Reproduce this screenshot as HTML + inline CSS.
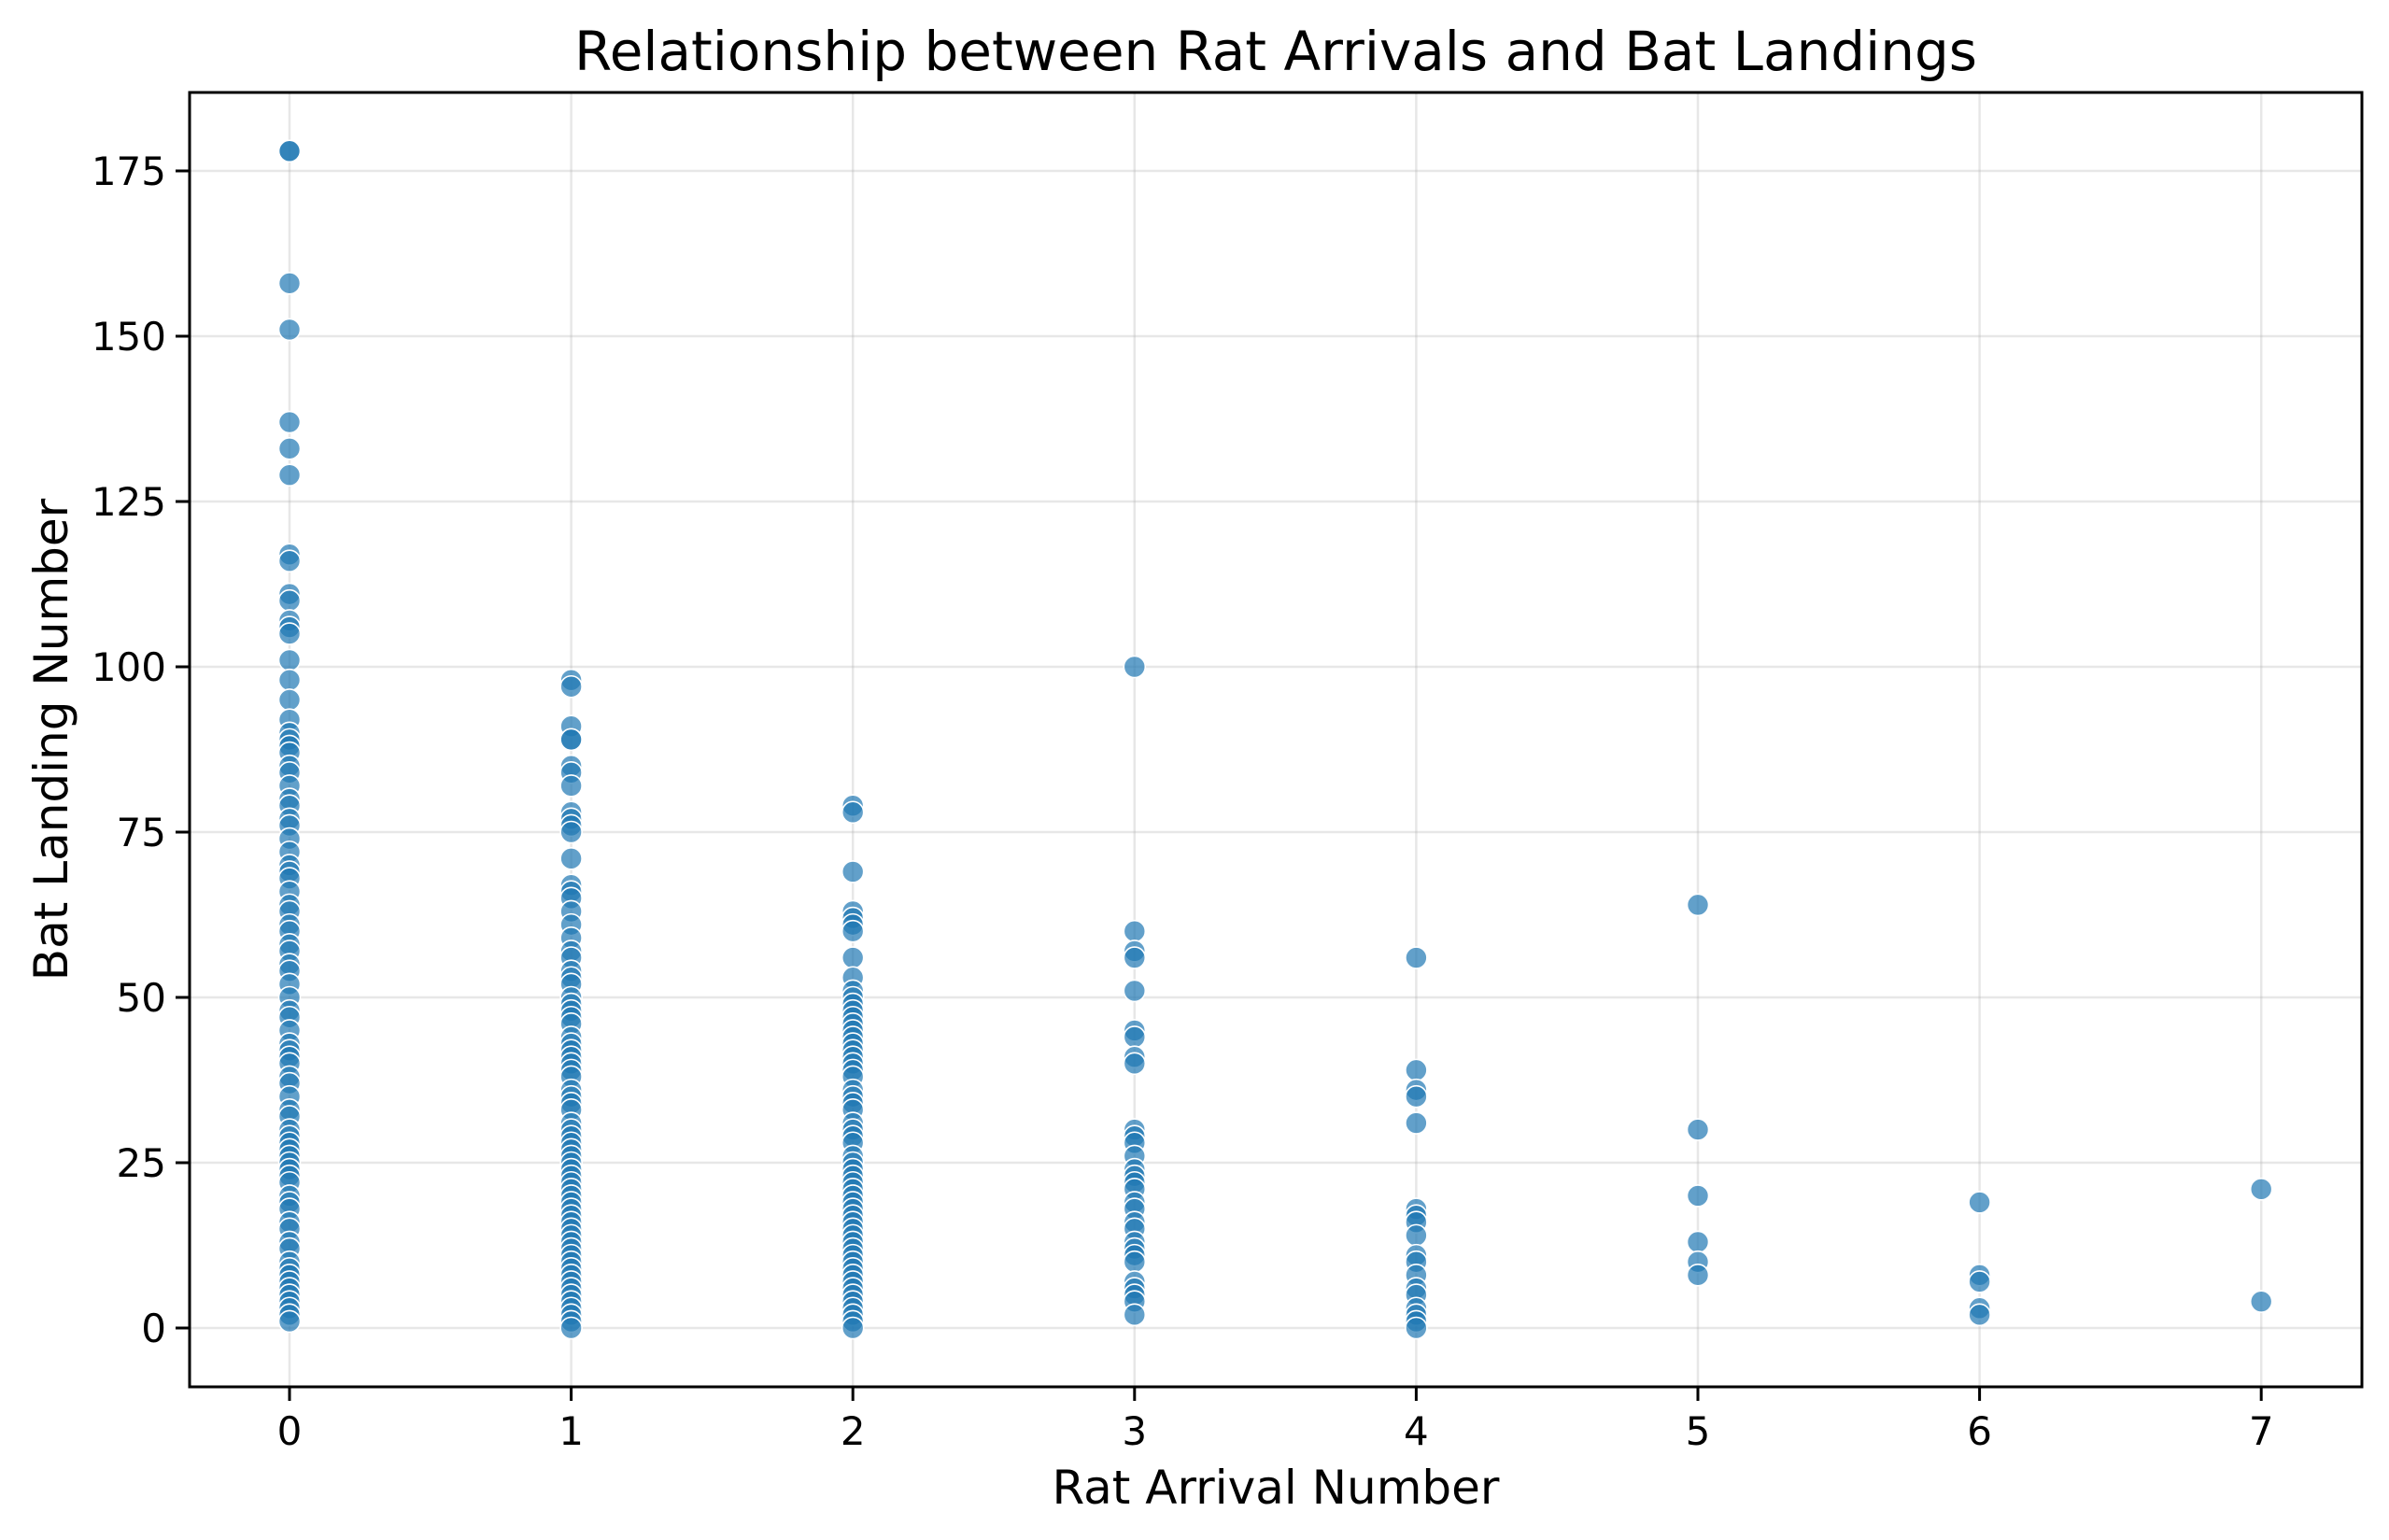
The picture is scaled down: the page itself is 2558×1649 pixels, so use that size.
<!DOCTYPE html>
<html><head><meta charset="utf-8"><style>
html,body{margin:0;padding:0;background:#fff;}
svg{display:block;font-family:"DejaVu Sans","Liberation Sans",sans-serif;}
</style></head><body>
<svg id="chart" width="2558" height="1649" viewBox="0 0 2558 1649" xmlns="http://www.w3.org/2000/svg">
<rect width="2558" height="1649" fill="#fff"/>
<g id="grid"></g>
<g id="points"></g>
<rect x="203" y="99" width="2326" height="1386" fill="none" stroke="#000" stroke-width="3"/>
<g id="ticks"></g>
<text x="1366" y="75" font-size="58" text-anchor="middle">Relationship between Rat Arrivals and Bat Landings</text>
<text x="1366" y="1610" font-size="50" text-anchor="middle">Rat Arrival Number</text>
<text x="0" y="0" font-size="50" text-anchor="middle" transform="translate(72,792) rotate(-90)">Bat Landing Number</text>
</svg>
<script>
const xTicks = [0,1,2,3,4,5,6,7];
const yTicks = [0,25,50,75,100,125,150,175];
const col0 = [178,178,158,151,137,133,129,117,116,111,110,107,106,105,101,98,95,92,90,89,88,87,85,84,82,80,79,77,76,74,72,70,69,68,66,64,63,61,60,58,57,55,54,52,50,48,47,45,43,42,41,40,38,37,35,33,32,30,29,28,27,26,25,24,23,22,20,19,18,16,15,13,12,10,9,8,7,6,5,4,3,2,1];
const col1 = [98,97,91,89,89,85,84,82,78,77,76,75,71,67,66,65,63,61,59,57,56,54,53,52,50,49,48,47,46,44,43,42,41,40,39,38,36,35,34,33,31,30,29,28,27,26,25,24,23,22,21,20,19,18,17,16,15,14,13,12,11,10,9,8,7,6,5,4,3,2,1,0];
const col2 = [79,78,69,63,62,61,60,56,53,51,50,49,48,47,46,45,44,43,42,41,40,39,38,36,35,34,33,31,30,29,28,26,25,24,23,22,21,20,19,18,17,16,15,14,13,12,11,10,9,8,7,6,5,4,3,2,1,0];
const col3 = [100,60,57,56,51,45,44,41,40,30,29,28,26,24,23,22,21,19,18,16,15,13,12,11,10,7,6,5,4,2];
const col4 = [56,39,36,35,31,18,17,16,14,11,10,8,6,5,3,2,1,0];
const col5 = [64,30,20,13,10,8];
const col6 = [19,8,7,3,2];
const col7 = [21,4];
const columns = [col0,col1,col2,col3,col4,col5,col6,col7];

const NS = "http://www.w3.org/2000/svg";
const L=203,R=2529,T=99,B=1485;
function xs(v){return 310 + v*301.6;}
function ys(v){return 1422 - v*(1422-183)/175;}
function mk(tag, attrs, parent){const e=document.createElementNS(NS,tag);for(const k in attrs)e.setAttribute(k,attrs[k]);parent.appendChild(e);return e;}
const grid=document.getElementById('grid'),pts=document.getElementById('points'),tk=document.getElementById('ticks');
xTicks.forEach(v=>{
  const g=mk('line',{x1:xs(v),x2:xs(v),y1:T,y2:B,stroke:'#b0b0b0','stroke-opacity':0.3,'stroke-width':2.5},grid);
  
  
  const t=mk('line',{x1:xs(v),x2:xs(v),y1:B,y2:B+15,stroke:'#000','stroke-width':3},tk);
  
  
  const l=mk('text',{x:xs(v),y:1547,'font-size':42,'text-anchor':'middle'},tk);
  l.textContent=v;
  
  
});
yTicks.forEach(v=>{
  const g=mk('line',{x1:L,x2:R,y1:ys(v),y2:ys(v),stroke:'#b0b0b0','stroke-opacity':0.3,'stroke-width':2.5},grid);
  
  
  const t=mk('line',{x1:L-15,x2:L,y1:ys(v),y2:ys(v),stroke:'#000','stroke-width':3},tk);
  
  
  const l=mk('text',{x:L-25,y:ys(v)+15,'font-size':42,'text-anchor':'end'},tk);
  l.textContent=v;
  
  
});
columns.forEach((col,i)=>{
  col.forEach(v=>{
    const c=mk('circle',{cx:xs(xTicks[i]),cy:ys(v),r:11.5,fill:'#1f77b4','fill-opacity':0.7,stroke:'#fff','stroke-width':1.6},pts);
    
    
  });
});
</script>
</body></html>
